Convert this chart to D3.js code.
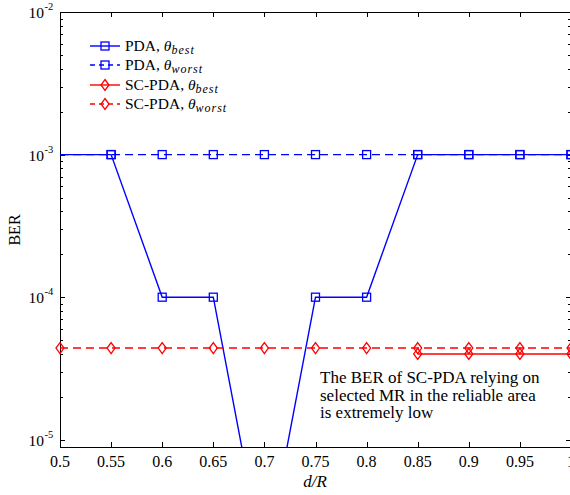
<!DOCTYPE html>
<html><head><meta charset="utf-8">
<script src="https://cdn.jsdelivr.net/npm/d3@7"></script>
<style>body{margin:0;background:#fff;} svg{display:block;font-family:"Liberation Serif","Times New Roman",serif;}</style>
</head><body>
<svg id="c" width="570" height="495"></svg>
<script>
const xs = [0.5,0.55,0.6,0.65,0.7,0.75,0.8,0.85,0.9,0.95,1];
const pdaBest = [1e-3,1e-3,1e-4,1e-4,1.3e-6,1e-4,1e-4,1e-3,1e-3,1e-3,1e-3];
const pdaWorst = [1e-3,1e-3,1e-3,1e-3,1e-3,1e-3,1e-3,1e-3,1e-3,1e-3,1e-3];
const scBest = [null,null,null,null,null,null,null,4e-5,4e-5,4e-5,4e-5];
const scWorst = [4.4e-5,4.4e-5,4.4e-5,4.4e-5,4.4e-5,4.4e-5,4.4e-5,4.4e-5,4.4e-5,4.4e-5,4.4e-5];
const xTicks = [0.5,0.55,0.6,0.65,0.7,0.75,0.8,0.85,0.9,0.95,1];
const xTickLabels = ["0.5","0.55","0.6","0.65","0.7","0.75","0.8","0.85","0.9","0.95","1"];
const yTicks = [1e-5,1e-4,1e-3,1e-2];
const yTickExp = ["-5","-4","-3","-2"];
const legendLabels = [["PDA, ","best"],["PDA, ","worst"],["SC-PDA, ","best"],["SC-PDA, ","worst"]];
const annotation = ["The BER of SC-PDA relying on","selected MR in the reliable area","is extremely low"];

const L=60,R=571,T=12,B=447;
const svg=d3.select("#c");
const x=d3.scaleLinear().domain([0.5,1]).range([L,R]);
const y=d3.scaleLog().domain([8.9e-6,1e-2]).range([B,T]);

svg.append("defs").append("clipPath").attr("id","clip").append("rect")
  .attr("x",L).attr("y",T).attr("width",R-L).attr("height",B-T);

const g=svg.append("g");
g.append("rect").attr("x",L+0.5).attr("y",T+0.5).attr("width",R-L).attr("height",B-T)
  .attr("fill","none").attr("stroke","#000").attr("stroke-width",1);

xTicks.forEach((t,i)=>{
  const px=Math.round(x(t))+0.5;
  g.append("line").attr("x1",px).attr("x2",px).attr("y1",B).attr("y2",B-5).attr("stroke","#000");
  g.append("line").attr("x1",px).attr("x2",px).attr("y1",T).attr("y2",T+5).attr("stroke","#000");
  g.append("text").attr("x",x(t)).attr("y",467).attr("text-anchor","middle")
   .attr("font-size",16).text(xTickLabels[i]);
});
yTicks.forEach((t,i)=>{
  const py=Math.round(y(t))+0.5;
  g.append("line").attr("x1",L).attr("x2",L+5).attr("y1",py).attr("y2",py).attr("stroke","#000");
  g.append("line").attr("x1",R).attr("x2",R-5).attr("y1",py).attr("y2",py).attr("stroke","#000");
  g.append("text").attr("x",44).attr("y",y(t)+6).attr("text-anchor","end").attr("font-size",15.5).text("10");
  g.append("text").attr("x",44.5).attr("y",y(t)-2).attr("font-size",10.5).text(yTickExp[i]);
  if(i<yTicks.length-1){
    for(let m=2;m<=9;m++){
      const my=Math.round(y(t*m))+0.5;
      g.append("line").attr("x1",L).attr("x2",L+3).attr("y1",my).attr("y2",my).attr("stroke","#000");
      g.append("line").attr("x1",R).attr("x2",R-3).attr("y1",my).attr("y2",my).attr("stroke","#000");
    }
  }
});

svg.append("text").attr("transform","translate(20,230) rotate(-90)").attr("text-anchor","middle")
  .attr("font-size",16).text("BER");
svg.append("text").attr("x",315).attr("y",487).attr("text-anchor","middle").attr("font-size",17)
  .attr("font-style","italic").text("d/R");

const series=[
  {data:pdaBest,color:"#0000ff",dash:null,marker:"square",skipFirst:true},
  {data:pdaWorst,color:"#0000ff",dash:"8,5",marker:"square",skipFirst:true},
  {data:scBest,color:"#ff0000",dash:null,marker:"diamond",skipFirst:false},
  {data:scWorst,color:"#ff0000",dash:"8,5",marker:"diamond",skipFirst:false}
];
const plot=svg.append("g").attr("clip-path","url(#clip)");
const line=d3.line().defined(d=>d.v!=null).x(d=>x(d.x)).y(d=>y(d.v));
function drawMarker(sel,type,cx,cy,color){
  if(type==="square"){
    sel.append("rect").attr("x",cx-4).attr("y",cy-4).attr("width",8).attr("height",8)
      .attr("fill","none").attr("stroke",color).attr("stroke-width",1.3);
  } else {
    sel.append("path").attr("d",`M${cx},${cy-5.5}L${cx+4},${cy}L${cx},${cy+5.5}L${cx-4},${cy}Z`)
      .attr("fill","none").attr("stroke",color).attr("stroke-width",1.3);
  }
}
const markers=svg.append("g");
series.forEach(s=>{
  const pts=xs.map((xv,i)=>({x:xv,v:s.data[i],i}));
  plot.append("path").datum(pts).attr("d",line).attr("fill","none")
    .attr("stroke",s.color).attr("stroke-width",1.4).attr("stroke-dasharray",s.dash);
  pts.forEach(p=>{
    if(p.v==null) return;
    if(s.skipFirst && p.i===0) return;
    const py=y(p.v); if(py>B+1) return;
    drawMarker(markers,s.marker,x(p.x),py,s.color);
  });
});

const legY=[46,65,85,104];
series.forEach((s,i)=>{
  const ly=legY[i];
  svg.append("line").attr("x1",90).attr("x2",120).attr("y1",ly).attr("y2",ly)
    .attr("stroke",s.color).attr("stroke-width",1.4).attr("stroke-dasharray",s.dash?"5,4":null);
  drawMarker(svg,s.marker,105,ly,s.color);
  const t=svg.append("text").attr("x",125).attr("y",ly+5).attr("font-size",15.5);
  t.append("tspan").text(legendLabels[i][0]);
  t.append("tspan").attr("font-style","italic").text("θ");
  t.append("tspan").attr("font-style","italic").attr("font-size",12).attr("letter-spacing",1).attr("dy",3).text(legendLabels[i][1]);
});

annotation.forEach((a,i)=>{
  svg.append("text").attr("x",320).attr("y",383+i*17.5).attr("font-size",17).text(a);
});
</script>
</body></html>
